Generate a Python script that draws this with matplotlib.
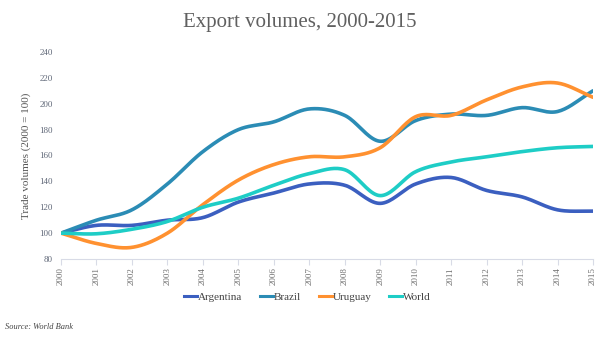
import numpy as np
import matplotlib
matplotlib.use("Agg")
import matplotlib.pyplot as plt
from matplotlib.lines import Line2D

years = list(range(2000, 2016))
argentina = [100, 106, 106, 110, 112, 124, 131, 138, 137, 123, 138, 143, 133, 128, 118, 117]
brazil = [100, 110, 118, 138, 163, 180, 186, 196, 191, 171, 187, 192, 191, 197, 194, 210]
uruguay = [100, 92, 89, 100, 122, 141, 153, 159, 159, 166, 190, 191, 203, 213, 216, 205]
world = [100, 99.5, 103, 109, 120, 127, 137, 146, 149, 129, 147.5, 155, 159, 163, 166, 167]

series = [
    ("Argentina", argentina, "#3b5fc0"),
    ("Brazil", brazil, "#2b8cb5"),
    ("Uruguay", uruguay, "#ff9130"),
    ("World", world, "#1ecdc6"),
]

y_ticks = list(range(80, 241, 20))


def smooth(x, y, n=20):
    """Cubic Hermite curve through the points with Catmull-Rom tangents."""
    x = np.asarray(x, float)
    y = np.asarray(y, float)
    m = np.zeros_like(y)
    m[1:-1] = (y[2:] - y[:-2]) / (x[2:] - x[:-2])
    m[0] = y[1] - y[0]
    m[-1] = y[-1] - y[-2]
    xs, ys = [], []
    for i in range(len(x) - 1):
        t = np.linspace(0, 1, n, endpoint=False)
        h = x[i + 1] - x[i]
        h00 = 2 * t**3 - 3 * t**2 + 1
        h10 = t**3 - 2 * t**2 + t
        h01 = -2 * t**3 + 3 * t**2
        h11 = t**3 - t**2
        xs.append(x[i] + t * h)
        ys.append(h00 * y[i] + h10 * h * m[i] + h01 * y[i + 1] + h11 * h * m[i + 1])
    xs.append([x[-1]])
    ys.append([y[-1]])
    return np.concatenate(xs), np.concatenate(ys)


serif = ["Liberation Serif", "DejaVu Serif"]
plt.rcParams["font.family"] = serif

fig = plt.figure(figsize=(6, 3.38), dpi=100)
ax = fig.add_axes([61 / 600, 1 - 259 / 338, 532 / 600, 207 / 338])

for name, vals, color in series:
    sx, sy = smooth(years, vals)
    ax.plot(sx, sy, color=color, lw=2.6, solid_capstyle="round")

ax.set_xlim(2000, 2015)
ax.set_ylim(80, 240)
ax.set_xticks(years)
ax.set_xticklabels([str(y) for y in years], rotation=90, fontsize=6.5, color="#707070")
ax.set_yticks(y_ticks)
ax.set_yticklabels([str(v) for v in y_ticks], fontsize=6.5, color="#606878")
ax.tick_params(axis="y", length=0, pad=6)
ax.tick_params(axis="x", length=4, color="#d8dbe6", pad=2)
for s in ["top", "right", "left"]:
    ax.spines[s].set_visible(False)
ax.spines["bottom"].set_color("#d8dbe6")

ax.set_ylabel("Trade volumes (2000 = 100)", fontsize=8, color="#555555", labelpad=6)

fig.text(0.5, 1 - 22 / 338, "Export volumes, 2000-2015", ha="center", va="center",
         fontsize=15, color="#606060")

handles = [Line2D([], [], color=c, lw=2.2) for _, _, c in series]
labels = [n for n, _, _ in series]
leg = fig.legend(handles, labels, loc="center", bbox_to_anchor=(0.512, 1 - 297 / 338), ncol=4,
                 frameon=False, fontsize=8, handlelength=1.2, handletextpad=0.05,
                 columnspacing=1.6)
for t in leg.get_texts():
    t.set_color("#444444")

fig.text(5 / 600, 1 - 327 / 338, "Source: World Bank", fontsize=6, style="italic",
         color="#444444", va="center")

fig.savefig("out.png", dpi=100)
